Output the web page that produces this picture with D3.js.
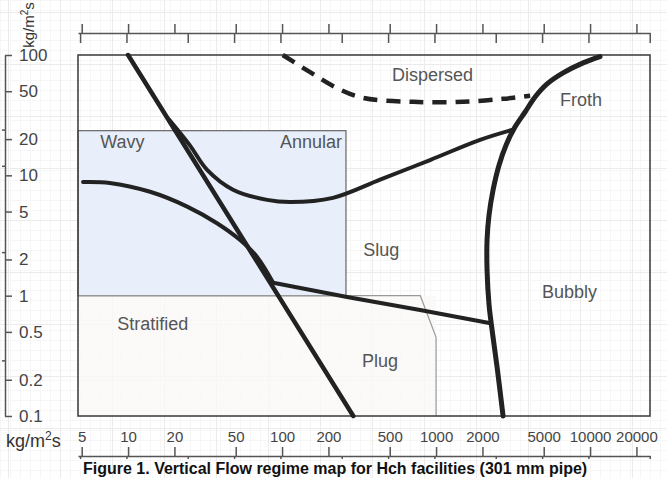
<!DOCTYPE html>
<html>
<head>
<meta charset="utf-8">
<script src="https://cdn.jsdelivr.net/npm/d3@7"></script>
<style>
  body { margin: 0; background: #fff; }
  svg { display: block; font-family: "Liberation Sans", Arial, sans-serif; }
  .region { fill: #555; font-size: 18px; }
  .axis text { fill: #444; }
  .axis path, .axis line { stroke: #555; stroke-width: 1.5; }
</style>
</head>
<body>
<div class="chart"></div>
<script>
// mass flux ticks (kg/m2s) and the lb/ft2s ticks drawn without labels
var xTicks = [5, 10, 20, 50, 100, 200, 500, 1000, 2000, 5000, 10000, 20000];
var xSecTicks = [4.88, 9.76, 24.4, 48.8, 97.6, 244, 488, 976, 2440, 4880, 9760, 24400];
var yTicks = [0.1, 0.2, 0.5, 1, 2, 5, 10, 20, 50, 100];
var ySecTicks = [24, 12, 2.3, 0.29];

// boundaries, [gas flux, liquid flux]
var steepLine = [[10, 100], [290, 0.1]];
var annularSlug = [[18.5, 29], [25, 18], [32.6, 11.1], [48, 7.6], [80, 6.25], [113, 6.0],
  [214, 6.5], [433, 9.2], [914, 13.4], [1930, 19.7], [3100, 23.8]];
var wavySlug = [[5.1, 8.8], [7.6, 8.65], [13.9, 7.3], [24.2, 5.5], [37.8, 4.0], [53.4, 2.9],
  [68.8, 2.1], [87.5, 1.28]];
var slugPlug = [[87.5, 1.28], [264, 0.975], [787, 0.76], [2260, 0.59]];
var bubbly = [[11600, 97], [9010, 86], [6680, 71], [5260, 57.5], [4395, 44.8], [3785, 33.6],
  [3260, 25.3], [2850, 17.9], [2566, 12.2], [2345, 7.56], [2208, 4.69], [2143, 2.9],
  [2143, 1.64], [2208, 0.84], [2310, 0.52], [2490, 0.255], [2723, 0.1]];
var dispersed = [[101, 100], [152, 72], [228, 53], [336, 44], [710, 40.8], [1500, 40.8],
  [2720, 43.2], [4080, 45.8]];

// shaded wavy/annular box and plug outline
var wavyBox = [[4.73, 23.5], [260, 1]];
var plugOutline = [[4.73, 1], [790, 1], [1000, 0.45], [1000, 0.1]];

var regionNames = ["Dispersed", "Froth", "Wavy", "Annular", "Slug", "Bubbly", "Stratified", "Plug"];
var regionAt = [[518, 68], [6380, 42.4], [6.6, 19], [97, 19], [336, 2.4], [4875, 1.07], [8.5, 0.59], [330, 0.29]];

var svgWidth = 667;
var svgHeight = 478;

var svg = d3.select(".chart")
  .append("svg")
  .attr("width", svgWidth)
  .attr("height", svgHeight);

var x = d3.scaleLog().domain([4.73, 24500]).range([78, 650]);
var y = d3.scaleLog().domain([0.1, 100]).range([416, 55]);

// faint graph-paper background
var grid = svg.append("g");
grid.selectAll(".minor-v").data(d3.range(0, svgWidth, 10)).enter().append("line")
  .attr("x1", d => d + 0.5).attr("x2", d => d + 0.5).attr("y1", 0).attr("y2", svgHeight)
  .attr("stroke", "#f6f6f6");
grid.selectAll(".minor-h").data(d3.range(0, svgHeight, 10)).enter().append("line")
  .attr("y1", d => d + 0.5).attr("y2", d => d + 0.5).attr("x1", 0).attr("x2", svgWidth)
  .attr("stroke", "#f6f6f6");
grid.selectAll(".major-v").data(d3.range(8, svgWidth, 52)).enter().append("line")
  .attr("x1", d => d + 0.5).attr("x2", d => d + 0.5).attr("y1", 0).attr("y2", svgHeight)
  .attr("stroke", "#ebebeb");
grid.selectAll(".major-h").data(d3.range(12, svgHeight, 52)).enter().append("line")
  .attr("y1", d => d + 0.5).attr("y2", d => d + 0.5).attr("x1", 0).attr("x2", svgWidth)
  .attr("stroke", "#ebebeb");

// stratified area tint
svg.append("rect")
  .attr("x", x(4.73)).attr("y", y(1))
  .attr("width", x(1000) - x(4.73)).attr("height", y(0.1) - y(1))
  .attr("fill", "#fbf9f7").attr("opacity", 0.8);

// wavy / annular box
svg.append("rect")
  .attr("x", x(wavyBox[0][0])).attr("y", y(wavyBox[0][1]))
  .attr("width", x(wavyBox[1][0]) - x(wavyBox[0][0]))
  .attr("height", y(wavyBox[1][1]) - y(wavyBox[0][1]))
  .attr("fill", "#e8effa")
  .attr("stroke", "#666")
  .attr("stroke-width", 1.2);

var line = d3.line().x(d => x(d[0])).y(d => y(d[1]));
var smooth = d3.line().x(d => x(d[0])).y(d => y(d[1])).curve(d3.curveCatmullRom.alpha(0.5));

svg.append("path")
  .attr("d", line(plugOutline))
  .attr("fill", "none")
  .attr("stroke", "#999")
  .attr("stroke-width", 1.2);

// plot frame
svg.append("rect")
  .attr("x", x(4.73)).attr("y", y(100))
  .attr("width", x(24500) - x(4.73)).attr("height", y(0.1) - y(100))
  .attr("fill", "none")
  .attr("stroke", "#444")
  .attr("stroke-width", 1.6);

// region names
svg.selectAll(".region")
  .data(regionNames)
  .enter()
  .append("text")
  .attr("class", "region")
  .attr("x", (d, i) => x(regionAt[i][0]))
  .attr("y", (d, i) => y(regionAt[i][1]))
  .attr("dy", "0.35em")
  .text(d => d);

// boundaries
var curves = svg.append("g")
  .attr("fill", "none")
  .attr("stroke", "#222")
  .attr("stroke-linecap", "round");

curves.append("path").attr("d", smooth(annularSlug)).attr("stroke-width", 4);
curves.append("path").attr("d", smooth(wavySlug)).attr("stroke-width", 4);
curves.append("path").attr("d", line(slugPlug)).attr("stroke-width", 4);
curves.append("path").attr("d", line(steepLine)).attr("stroke-width", 4.5);
curves.append("path").attr("d", smooth(bubbly)).attr("stroke-width", 5);
curves.append("path").attr("d", smooth(dispersed))
  .attr("stroke-width", 4.5)
  .attr("stroke-linecap", "butt")
  .attr("stroke-dasharray", "14,9");

// top axis
var topAxis = svg.append("g").attr("class", "axis").attr("transform", "translate(0,33)");
topAxis.call(d3.axisTop(x).tickValues(xTicks).tickSize(9).tickSizeOuter(0).tickFormat(""));
svg.append("g").attr("class", "axis").attr("transform", "translate(0,33)")
  .call(d3.axisBottom(x).tickValues(xSecTicks).tickSize(10).tickSizeOuter(0).tickFormat(""))
  .select(".domain").remove();

// bottom axis with labels above it
var bottomAxis = svg.append("g").attr("class", "axis").attr("transform", "translate(0,456)");
bottomAxis.call(d3.axisTop(x).tickValues(xTicks).tickSize(9).tickSizeOuter(0).tickPadding(5)
  .tickFormat(d3.format("d")));
bottomAxis.selectAll("text").style("font-size", "15px");
svg.append("g").attr("class", "axis").attr("transform", "translate(0,456)")
  .call(d3.axisBottom(x).tickValues(xSecTicks).tickSize(3).tickSizeOuter(0).tickFormat(""))
  .select(".domain").remove();

// left axis, labels to the right of the line
var leftAxis = svg.append("g").attr("class", "axis").attr("transform", "translate(5,0)");
leftAxis.call(d3.axisRight(y).tickValues(yTicks).tickSize(7).tickSizeOuter(0).tickPadding(7)
  .tickFormat(d => d < 1 ? d3.format(".1f")(d) : d3.format("d")(d)));
leftAxis.selectAll("text").style("font-size", "17px");
svg.append("g").attr("class", "axis").attr("transform", "translate(5,0)")
  .call(d3.axisLeft(y).tickValues(ySecTicks).tickSize(3).tickSizeOuter(0).tickFormat(""))
  .select(".domain").remove();

// unit labels
var unitX = svg.append("text")
  .attr("x", 6).attr("y", 447)
  .style("font-size", "18px").attr("fill", "#333");
unitX.append("tspan").text("kg/m");
unitX.append("tspan").attr("dy", -7).style("font-size", "12px").text("2");
unitX.append("tspan").attr("dy", 7).text("s");

var unitY = svg.append("text")
  .attr("transform", "translate(34,25) rotate(-90)")
  .attr("text-anchor", "middle")
  .style("font-size", "15px").attr("fill", "#333");
unitY.append("tspan").text("kg/m");
unitY.append("tspan").attr("dy", -6).style("font-size", "10px").text("2");
unitY.append("tspan").attr("dy", 6).text("s");

// caption under the map
svg.append("text")
  .attr("x", 83).attr("y", 474)
  .style("font-size", "16px").style("font-weight", "bold").attr("fill", "#111")
  .text("Figure 1. Vertical Flow regime map for Hch facilities (301 mm pipe)");
</script>
</body>
</html>
